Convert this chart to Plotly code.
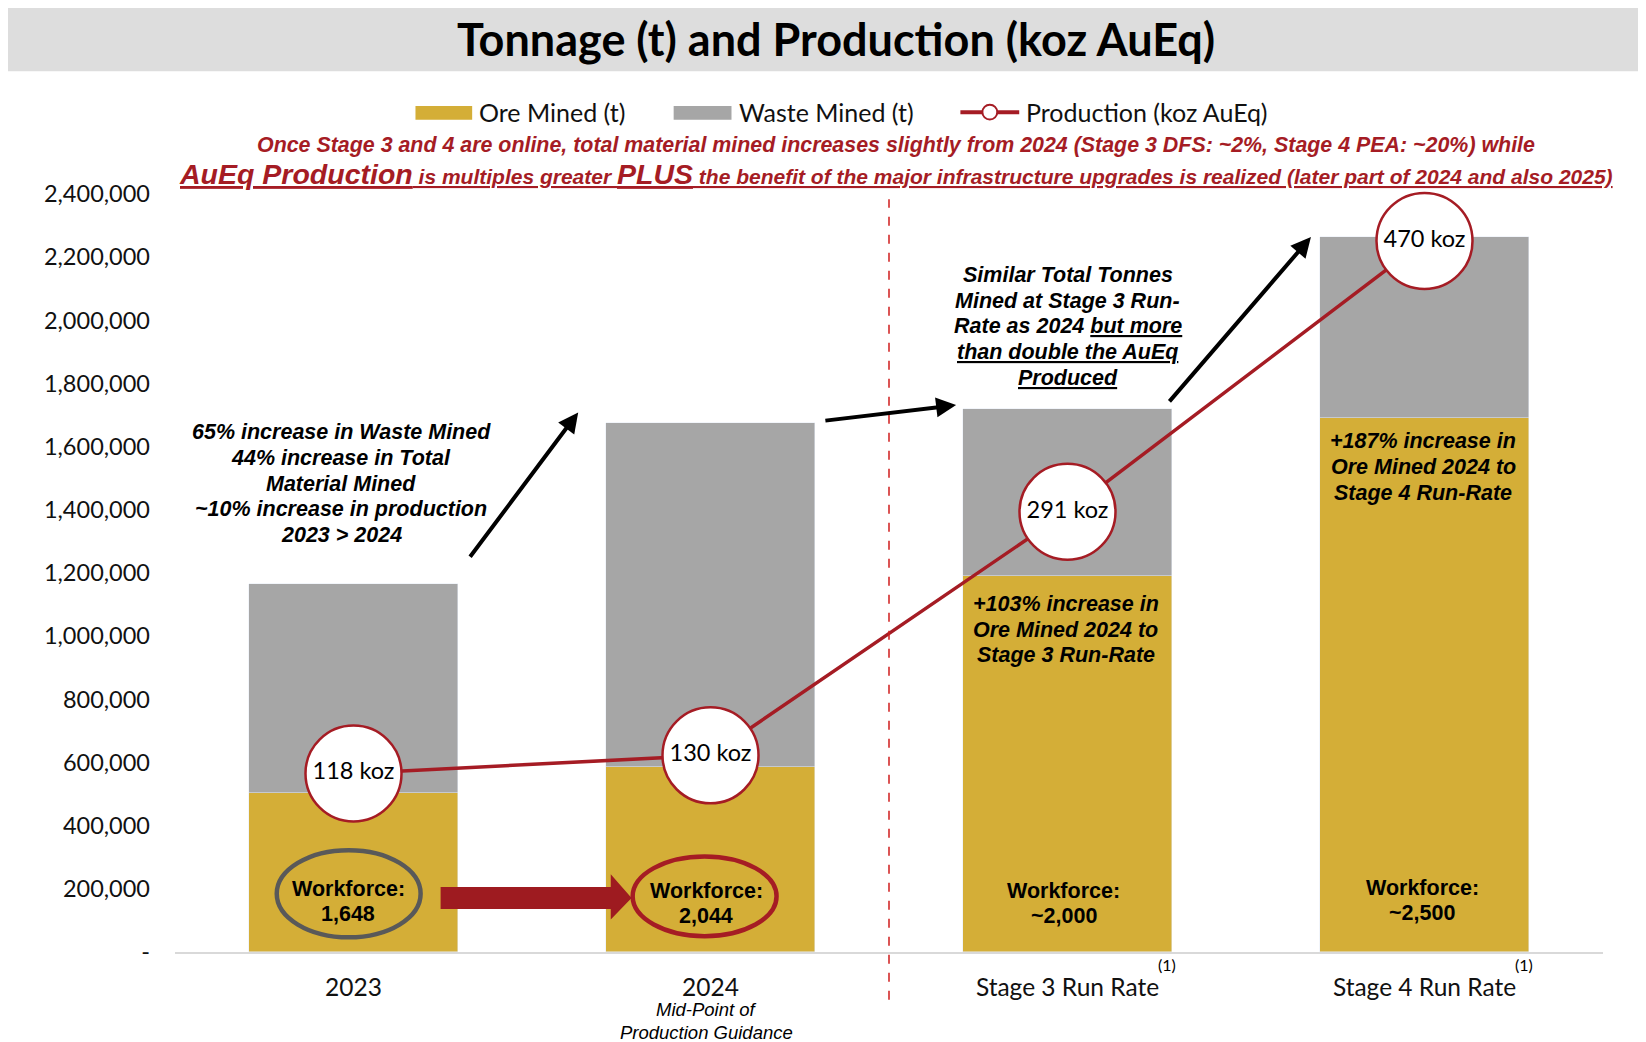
import plotly.graph_objects as go

# ---------------- data ----------------
categories = ["2023", "2024", "Stage 3 Run Rate", "Stage 4 Run Rate"]
ore_mined = [505000, 585000, 1190000, 1690000]
waste_mined = [660000, 1090000, 528000, 575000]
production_koz = [118, 130, 291, 470]
workforce = ["1,648", "2,044", "~2,000", "~2,500"]
y_tick_vals = [0, 200000, 400000, 600000, 800000, 1000000, 1200000, 1400000,
               1600000, 1800000, 2000000, 2200000, 2400000]

# ---------------- styles ----------------
GOLD = "#D4AE37"
GRAY = "#A6A6A6"
RED = "#A51C24"
CAL = "Lato"
ARIAL = "Liberation Sans, Arial"
AFS = 21.5

x_pos = list(range(len(categories)))

fig = go.Figure()
fig.add_trace(go.Bar(x=x_pos, y=ore_mined, name="Ore Mined (t)", marker_color=GOLD,
                     width=0.588, showlegend=False))
fig.add_trace(go.Bar(x=x_pos, y=waste_mined, name="Waste Mined (t)", marker_color=GRAY,
                     width=0.588, showlegend=False))
fig.add_trace(go.Scatter(
    x=x_pos, y=production_koz, yaxis="y2", name="Production (koz AuEq)",
    mode="lines+markers+text",
    line=dict(color=RED, width=3.5),
    marker=dict(size=96, color="white", line=dict(color=RED, width=2.5)),
    text=[f"{v} koz" for v in production_koz], textposition="middle center",
    textfont=dict(family=CAL, size=23.5, color="black"),
    cliponaxis=False, showlegend=False))

fig.update_layout(
    width=1638, height=1034,
    margin=dict(l=167, r=43, t=186, b=90),
    paper_bgcolor="white", plot_bgcolor="white",
    barmode="stack", bargap=0,
    xaxis=dict(range=[-0.5, 3.5], tickmode="array", tickvals=x_pos, ticktext=categories,
               showgrid=False, zeroline=False, showline=True, linecolor="#D9D9D9",
               linewidth=2, ticks="", tickfont=dict(family=CAL, size=24.5, color="#111111"),
               ticklabelstandoff=13),
    yaxis=dict(range=[0, 2400000], tickmode="array", tickvals=y_tick_vals,
               ticktext=["-"] + [f"{v:,}" for v in y_tick_vals[1:]],
               showgrid=False, zeroline=False, showline=False, ticks="",
               tickfont=dict(family=CAL, size=23.5, color="#111111"),
               ticklabelstandoff=24),
    yaxis2=dict(range=[0, 501], overlaying="y", visible=False),
)

shapes = []
annotations = []


def text_block(x, y, lines, xref="x", yref="y", size=AFS, spacing=25.7,
               family=ARIAL, color="black"):
    n = len(lines)
    for i, ln in enumerate(lines):
        annotations.append(dict(xref=xref, yref=yref, x=x, y=y, showarrow=False,
                                xanchor="center", yanchor="middle",
                                yshift=((n - 1) / 2 - i) * spacing, text=ln,
                                font=dict(family=family, size=size, color=color)))


# title band
shapes.append(dict(type="rect", xref="paper", yref="paper", x0=-0.118, x1=1.03,
                   y0=1.162, y1=1.249, fillcolor="#DDDDDD", line=dict(width=0), layer="below"))
annotations.append(dict(xref="paper", yref="paper", x=0.463, y=1.205, showarrow=False,
                        text="<b>Tonnage (t) and Production (koz AuEq)</b>",
                        font=dict(family=CAL, size=45, color="black"),
                        xanchor="center", yanchor="middle"))

# manual legend
ly0, ly1, lyc = 1.098, 1.116, 1.108
shapes.append(dict(type="rect", xref="paper", yref="paper", x0=0.1684, x1=0.2081,
                   y0=ly0, y1=ly1, fillcolor=GOLD, line=dict(width=0)))
shapes.append(dict(type="rect", xref="paper", yref="paper", x0=0.3492, x1=0.3897,
                   y0=ly0, y1=ly1, fillcolor=GRAY, line=dict(width=0)))
shapes.append(dict(type="line", xref="paper", yref="paper", x0=0.550, x1=0.5912,
                   y0=lyc, y1=lyc, line=dict(color=RED, width=4)))
shapes.append(dict(type="circle", xref="paper", yref="paper", x0=0.5706 - 0.0052,
                   x1=0.5706 + 0.0052, y0=lyc - 0.0098, y1=lyc + 0.0098,
                   fillcolor="white", line=dict(color=RED, width=2)))
for xx, t in [(0.2117, "Ore Mined (t)"), (0.3934, "Waste Mined (t)"),
              (0.5948, "Production (koz AuEq)")]:
    annotations.append(dict(xref="paper", yref="paper", x=xx, y=lyc, showarrow=False,
                            text=t, xanchor="left", yanchor="middle",
                            font=dict(family=CAL, size=25, color="#111111")))

# red subtitle
annotations.append(dict(
    xref="paper", yref="paper", x=0.5046, y=1.0648, showarrow=False, xanchor="center", yanchor="middle",
    text="<b><i>Once Stage 3 and 4 are online, total material mined increases slightly from 2024 (Stage 3 DFS: ~2%, Stage 4 PEA: ~20%) while</i></b>",
    font=dict(family=ARIAL, size=21.4, color=RED)))
annotations.append(dict(
    xref="paper", yref="paper", x=0.505, y=1.027, showarrow=False, xanchor="center", yanchor="middle",
    text="<b><i><u><span style='font-size:28.5px'>AuEq Production</span> is multiples greater "
         "<span style='font-size:28.5px'>PLUS</span> the benefit of the major infrastructure upgrades "
         "is realized (later part of 2024 and also 2025)</u></i></b>",
    font=dict(family=ARIAL, size=21, color=RED)))

# dashed divider
shapes.append(dict(type="line", xref="x", yref="paper", x0=1.5, x1=1.5, y0=-0.063, y1=0.993,
                   line=dict(color="#D01C1C", width=1.5, dash="dash")))

# black annotation texts
text_block(-0.035, 1482500, ["<b><i>65% increase in Waste Mined</i></b>",
                             "<b><i>44% increase in Total</i></b>",
                             "<b><i>Material Mined</i></b>",
                             "<b><i>~10% increase in production</i></b>",
                             "<b><i>2023 &gt; 2024</i></b>"])
text_block(2.0, 1981000, ["<b><i>Similar Total Tonnes</i></b>",
                          "<b><i>Mined at Stage 3 Run-</i></b>",
                          "<b><i>Rate as 2024 <u>but more</u></i></b>",
                          "<b><i><u>than double the AuEq</u></i></b>",
                          "<b><i><u>Produced</u></i></b>"])
text_block(1.995, 1020500, ["<b><i>+103% increase in</i></b>",
                            "<b><i>Ore Mined 2024 to</i></b>",
                            "<b><i>Stage 3 Run-Rate</i></b>"])
text_block(2.997, 1535700, ["<b><i>+187% increase in</i></b>",
                            "<b><i>Ore Mined 2024 to</i></b>",
                            "<b><i>Stage 4 Run-Rate</i></b>"])

# black arrows
for (tx, ty, hx, hy) in [(0.3235, 1246500, 0.6294, 1708500),
                         (1.3176, 1681900, 1.688, 1731800),
                         (2.282, 1738500, 2.682, 2263600)]:
    annotations.append(dict(xref="x", yref="y", axref="x", ayref="y", x=hx, y=hy, ax=tx, ay=ty,
                            text="", showarrow=True, arrowhead=2, arrowsize=1, arrowwidth=4,
                            arrowcolor="black", standoff=0, startstandoff=0))

# workforce labels
wf_pos = [(-0.015, 159600), (0.988, 152900), (1.99, 152900), (2.994, 162900)]
for (wx, wy), w in zip(wf_pos, workforce):
    text_block(wx, wy, ["<b>Workforce:</b>", f"<b>{w}</b>"], spacing=25.2)

# ellipses
shapes.append(dict(type="circle", xref="x", yref="y", x0=-0.215, x1=0.188, y0=46500, y1=322400,
                   line=dict(color="#595959", width=4.5), layer="above"))
shapes.append(dict(type="circle", xref="x", yref="y", x0=0.782, x1=1.185, y0=49900, y1=302500,
                   line=dict(color=RED, width=4.5), layer="above"))

# big red arrow
shapes.append(dict(type="path", xref="x", yref="y", layer="above",
                   path="M 0.244,206100 L 0.7206,206100 L 0.7206,246000 L 0.779,171200 "
                        "L 0.7206,103000 L 0.7206,136300 L 0.244,136300 Z",
                   fillcolor="#9E1B20", line=dict(width=0)))

# x-label extras
text_block(0.988, -0.0905, ["<i>Mid-Point of</i>", "<i>Production Guidance</i>"],
           xref="x", yref="paper", size=18.5, spacing=23.1)
for xx in [2.279, 3.279]:
    annotations.append(dict(xref="x", yref="paper", x=xx, y=-0.017, showarrow=False,
                            xanchor="center", yanchor="middle",
                            text="(1)", font=dict(family=CAL, size=16, color="black")))

fig.update_layout(shapes=shapes, annotations=annotations)
fig.write_html("out.html")
